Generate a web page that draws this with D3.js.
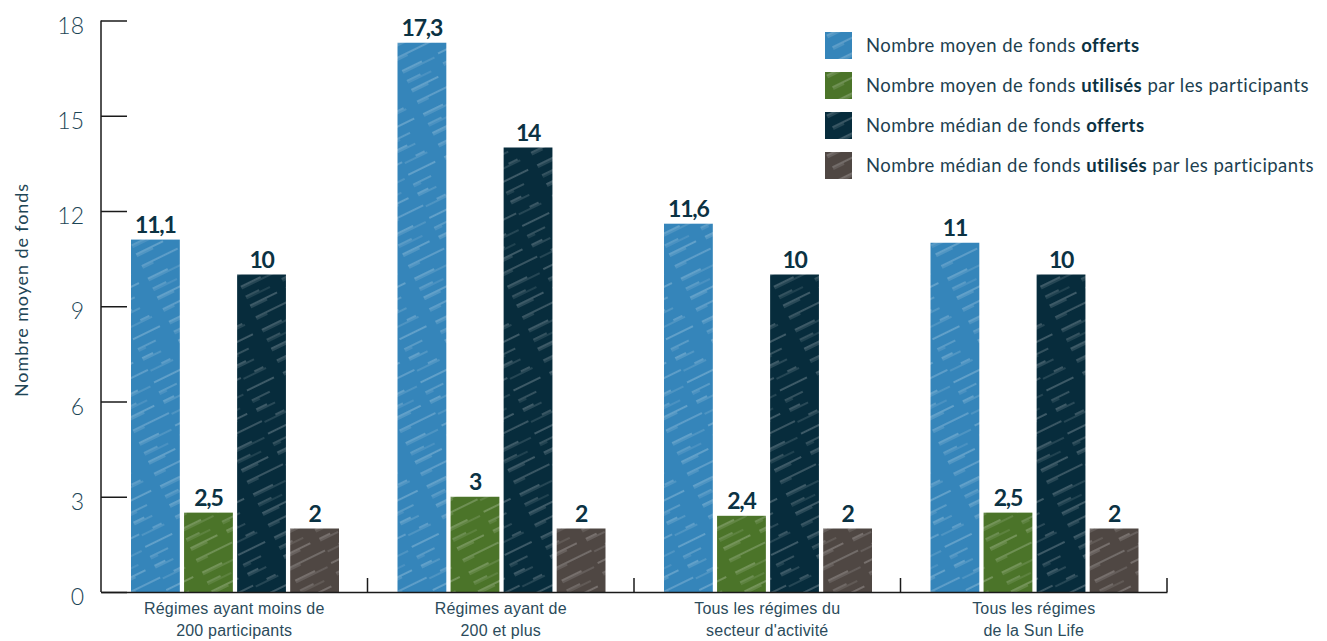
<!DOCTYPE html>
<html>
<head>
<meta charset="utf-8">
<script src="https://cdn.jsdelivr.net/npm/d3@7"></script>
<style>
  html, body { margin: 0; padding: 0; background: #fff; }
  svg { display: block; font-family: Lato, "Open Sans", sans-serif; }
</style>
</head>
<body>
<svg id="chart" width="1327" height="641"></svg>
<script>
// ---- data ----
const categories = [
  ["Régimes ayant moins de", "200 participants"],
  ["Régimes ayant de", "200 et plus"],
  ["Tous les régimes du", "secteur d'activité"],
  ["Tous les régimes", "de la Sun Life"]
];
const seriesKeys = ["moyenOfferts", "moyenUtilises", "medianOfferts", "medianUtilises"];
const legendLabels = [
  ["Nombre moyen de fonds ", "offerts", ""],
  ["Nombre moyen de fonds ", "utilisés", " par les participants"],
  ["Nombre médian de fonds ", "offerts", ""],
  ["Nombre médian de fonds ", "utilisés", " par les participants"]
];
const moyenOfferts   = [11.1, 17.3, 11.6, 11];
const moyenUtilises  = [2.5, 3, 2.4, 2.5];
const medianOfferts  = [10, 14, 10, 10];
const medianUtilises = [2, 2, 2, 2];
const yTicks = [0, 3, 6, 9, 12, 15, 18];
const yTitle = "Nombre moyen de fonds";
const colors = ["#3585ba", "#4b7429", "#072c3c", "#4f4743"];

const seriesValues = [moyenOfferts, moyenUtilises, medianOfferts, medianUtilises];
const catKeys = categories.map(c => c.join(" "));
const rows = catKeys.map((k, i) => ({
  key: k,
  values: seriesKeys.map((s, j) => ({ series: s, idx: j, value: seriesValues[j][i] }))
}));

// ---- layout ----
const svg = d3.select("#chart");
const mLeft = 101, mRight = 1167, mTop = 20.5, mBottom = 592;

const x0 = d3.scaleBand().domain(catKeys).range([mLeft, mRight]).paddingInner(0).paddingOuter(0);
const x1 = d3.scaleBand().domain(seriesKeys).range([30, 238]).paddingInner(0.08).paddingOuter(0);
const y = d3.scaleLinear().domain([0, 18]).range([mBottom, mTop]);

// ---- sketch patterns ----
const defs = svg.append("defs");
const hatch = [
  [4, 0.55, "30 10 12 28"], [6, 0.35, "18 22 20 20"], [17, 0.5, "40 15 10 15"],
  [19, 0.3, "12 30 25 13"], [31, 0.55, "22 18 30 10"], [33, 0.3, "35 45"],
  [42, 0.45, "15 25 20 20"], [44, 0.25, "26 14 8 32"]
];
colors.forEach((c, i) => {
  const p = defs.append("pattern")
    .attr("id", "sk" + i)
    .attr("patternUnits", "userSpaceOnUse")
    .attr("width", 80).attr("height", 48)
    .attr("patternTransform", "rotate(-26)");
  p.append("rect").attr("width", 80).attr("height", 48).attr("fill", c);
  hatch.forEach(h => {
    p.append("line")
      .attr("x1", 0).attr("x2", 80).attr("y1", h[0]).attr("y2", h[0])
      .attr("stroke", "#fff").attr("stroke-opacity", h[1])
      .attr("stroke-width", 0.8).attr("stroke-dasharray", h[2]);
  });
});

// ---- bars ----
const groups = svg.append("g").selectAll("g").data(rows).join("g")
  .attr("transform", d => `translate(${x0(d.key)},0)`);

groups.selectAll("rect").data(d => d.values).join("rect")
  .attr("x", d => x1(d.series))
  .attr("y", d => y(d.value))
  .attr("width", x1.bandwidth())
  .attr("height", d => y(0) - y(d.value))
  .attr("fill", d => `url(#sk${d.idx})`);

groups.selectAll("text.val").data(d => d.values).join("text")
  .attr("class", "val")
  .attr("x", d => x1(d.series) + x1.bandwidth() / 2)
  .attr("y", d => y(d.value) - 7)
  .attr("text-anchor", "middle")
  .attr("font-size", 23)
  .attr("font-weight", 700)
  .attr("letter-spacing", -1.2)
  .attr("fill", "#0b3243")
  .text(d => String(d.value).replace(".", ","));

// ---- y axis ----
const yAxis = d3.axisLeft(y).tickValues(yTicks).tickSize(-26).tickPadding(17)
  .tickFormat(d3.format("d"));
const gy = svg.append("g").attr("transform", `translate(${mLeft},0)`).call(yAxis);
gy.select(".domain").attr("stroke", "#1a1a1a").attr("stroke-width", 1.5)
  .attr("d", `M0,${mTop}V${mBottom}`);
gy.selectAll(".tick line").attr("stroke", "#1a1a1a").attr("stroke-width", 1.5);
gy.selectAll(".tick text")
  .attr("font-family", "Lato, sans-serif")
  .attr("font-size", 23)
  .attr("font-weight", 300)
  .attr("fill", "#1c4556")
  .attr("dy", "0.55em");

// ---- x axis ----
const xAxis = d3.axisBottom(x0).tickValues([]).tickSizeOuter(0);
const gx = svg.append("g").attr("transform", `translate(0,${mBottom})`).call(xAxis);
gx.select(".domain").attr("stroke", "#1a1a1a").attr("stroke-width", 1.5);
gx.selectAll("line.sep").data(catKeys).join("line")
  .attr("class", "sep")
  .attr("x1", d => x0(d) + x0.bandwidth()).attr("x2", d => x0(d) + x0.bandwidth())
  .attr("y1", 0).attr("y2", -14)
  .attr("stroke", "#1a1a1a").attr("stroke-width", 1.5);
gx.selectAll("text.cat").data(categories).join("text")
  .attr("class", "cat")
  .attr("x", (d, i) => x0(catKeys[i]) + x0.bandwidth() / 2)
  .attr("y", 22)
  .attr("text-anchor", "middle")
  .attr("font-size", 16)
  .attr("letter-spacing", 0.2)
  .attr("fill", "#2b4b5b")
  .selectAll("tspan").data(d => d).join("tspan")
  .attr("x", function () { return d3.select(this.parentNode).attr("x"); })
  .attr("dy", (d, i) => i === 0 ? 0 : 22)
  .text(d => d);

// ---- y title ----
svg.append("text")
  .attr("transform", "translate(28,290) rotate(-90)")
  .attr("text-anchor", "middle")
  .attr("font-size", 18)
  .attr("letter-spacing", 0.9)
  .attr("fill", "#1f4656")
  .text(yTitle);

// ---- legend ----
const lg = svg.append("g").selectAll("g").data(legendLabels).join("g")
  .attr("transform", (d, i) => `translate(825,${32 + i * 40})`);
lg.append("rect").attr("width", 27).attr("height", 27)
  .attr("fill", (d, i) => `url(#sk${i})`);
const lt = lg.append("text").attr("x", 41).attr("y", 20)
  .attr("font-size", 18.5).attr("letter-spacing", 0.45).attr("fill", "#1d3f50");
lt.append("tspan").text(d => d[0]);
lt.append("tspan").attr("font-weight", 700).attr("fill", "#0b3243").text(d => d[1]);
lt.append("tspan").text(d => d[2]);
</script>
</body>
</html>
